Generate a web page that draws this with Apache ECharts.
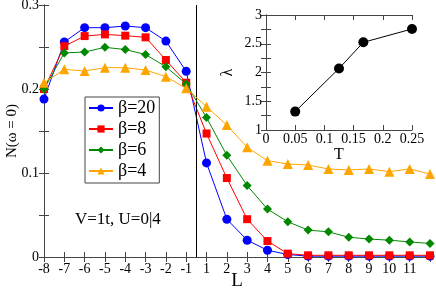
<!DOCTYPE html>
<html><head><meta charset="utf-8">
<script src="https://cdn.jsdelivr.net/npm/echarts@6/dist/echarts.min.js"></script>
<style>html,body{margin:0;padding:0;background:#fff}#c{width:436px;height:289px}</style>
</head><body><div id="c"></div>
<script>
// ---- data ----
const lLabels = ['-8','-7','-6','-5','-4','-3','-2','-1','1','2','3','4','5','6','7','8','9','10','11','12'];
const xTickLabels = ['-8','-7','-6','-5','-4','-3','-2','-1','1','2','3','4','5','6','7','8','9','10','11',''];
const beta20 = [0.188,0.256,0.273,0.273,0.275,0.273,0.257,0.221,0.112,0.045,0.020,0.008,0.003,0.001,0.001,0.001,0.001,0.001,0.001,0.001];
const beta8  = [0.200,0.251,0.263,0.265,0.2635,0.2615,0.2345,0.2075,0.147,0.094,0.045,0.019,0.004,0.002,0.002,0.002,0.002,0.002,0.002,0.002];
const beta6  = [0.200,0.243,0.244,0.2496,0.247,0.241,0.2265,0.206,0.166,0.121,0.085,0.057,0.042,0.032,0.030,0.0235,0.0214,0.020,0.018,0.016];
const beta4  = [0.2075,0.2234,0.2214,0.2254,0.2254,0.2226,0.2147,0.2008,0.179,0.157,0.1306,0.1147,0.1107,0.1095,0.1048,0.1036,0.1048,0.1016,0.1048,0.0988];
const seriesNames = ['β=20','β=8','β=6','β=4'];
const insetT = [0.05,0.125,0.1667,0.25];
const insetLambda = [1.32,2.07,2.525,2.757];
const yTickLabels = ['0','0.1','0.2','0.3'];

const F = 'Liberation Serif';
const axisCol = '#444';
const toPairs = arr => arr.map((v,i)=>[i,v]);

const chart = echarts.init(document.getElementById('c'), null, {renderer:'canvas'});
const mainGrid = {left:44, right:6, top:5, bottom:32, show:false, containLabel:false, outerBoundsMode:'none'};
const insetGrid = {left:266, top:15, width:146, height:115, show:true, backgroundColor:'#fff', borderWidth:0, containLabel:false, outerBoundsMode:'none'};

const cols = ['#0000ff','#ff0000','#008800','#ffa500'];
const syms = ['circle','rect','diamond','triangle'];
const sizes = [9,8,9,10];
const datas = [beta20,beta8,beta6,beta4];

const series = datas.map((d,k)=>({
  name: seriesNames[k], type:'line', xAxisIndex:0, yAxisIndex:0,
  data: toPairs(d), symbol: syms[k], symbolSize: sizes[k],
  lineStyle:{color:cols[k], width:1}, itemStyle:{color:cols[k]},
  emphasis:{disabled:true}, z: 3+k
}));
series.push({
  type:'line', xAxisIndex:0, yAxisIndex:0, data:[], silent:true,
  markLine:{silent:true, symbol:'none', label:{show:false},
    lineStyle:{color:'#000', width:1, type:'solid'},
    data:[{xAxis:7.5}]}
});
series.push({
  type:'line', xAxisIndex:2, yAxisIndex:2, data: insetT.map((t,i)=>[t,insetLambda[i]]),
  symbol:'circle', symbolSize:10, lineStyle:{color:'#000',width:1}, itemStyle:{color:'#000'},
  emphasis:{disabled:true}, z:10
});

chart.setOption({
  animation:false,
  textStyle:{fontFamily:F},
  grid:[mainGrid, insetGrid],
  legend:{
    data: seriesNames, left:85, top:97, orient:'vertical',
    padding:[2,4,3,3], itemGap:3, itemWidth:24, itemHeight:9,
    borderColor:'#444', borderWidth:1, backgroundColor:'#fff',
    textStyle:{fontFamily:F, fontSize:18, color:'#000'},
    selectedMode:false, z:20
  },
  xAxis:[
    {type:'value', gridIndex:0, min:0, max:19, interval:1, position:'bottom',
     axisLine:{lineStyle:{color:axisCol}},
     axisTick:{inside:true, length:5, lineStyle:{color:axisCol}},
     axisLabel:{fontFamily:F, fontSize:14, color:'#000', margin:5, formatter:v=>xTickLabels[v]},
     splitLine:{show:false},
     name:'L', nameLocation:'middle', nameGap:15, nameMoveOverlap:false,
     nameTextStyle:{fontFamily:F, fontSize:19, color:'#000', verticalAlign:'top'}},
    {type:'value', gridIndex:0, min:0, max:19, interval:1, position:'top',
     axisLine:{lineStyle:{color:axisCol}},
     axisTick:{inside:true, length:5, lineStyle:{color:axisCol}},
     axisLabel:{show:false}, splitLine:{show:false}},
    {type:'value', gridIndex:1, min:0, max:0.25, interval:0.05, position:'bottom',
     axisLine:{lineStyle:{color:axisCol}},
     axisTick:{inside:true, length:5, lineStyle:{color:axisCol}},
     axisLabel:{fontFamily:F, fontSize:14, color:'#000', margin:2, formatter:v=>String(+v.toFixed(2))},
     splitLine:{show:false},
     name:'T', nameLocation:'middle', nameGap:17, nameMoveOverlap:false,
     nameTextStyle:{fontFamily:F, fontSize:16, color:'#000'}},
    {type:'value', gridIndex:1, min:0, max:0.25, interval:0.05, position:'top',
     axisLine:{lineStyle:{color:axisCol}},
     axisTick:{inside:true, length:5, lineStyle:{color:axisCol}},
     axisLabel:{show:false}, splitLine:{show:false}}
  ],
  yAxis:[
    {type:'value', gridIndex:0, min:0, max:0.3, interval:0.1, position:'left',
     axisLine:{show:true, lineStyle:{color:axisCol}},
     axisTick:{inside:true, length:5, lineStyle:{color:axisCol}},
     minorTick:{show:true, splitNumber:2, length:5, lineStyle:{color:axisCol}},
     axisLabel:{fontFamily:F, fontSize:14, color:'#000', margin:5, formatter:v=>yTickLabels[Math.round(v*10)]},
     splitLine:{show:false},
     name:'N(ω = 0)', nameLocation:'middle', nameGap:24, nameRotate:90, nameMoveOverlap:false,
     nameTextStyle:{fontFamily:F, fontSize:15, color:'#000'}},
    {type:'value', gridIndex:0, min:0, max:0.3, interval:0.1, position:'right',
     axisLine:{show:true, lineStyle:{color:axisCol}},
     axisTick:{inside:true, length:5, lineStyle:{color:axisCol}},
     minorTick:{show:true, splitNumber:2, length:5, lineStyle:{color:axisCol}},
     axisLabel:{show:false}, splitLine:{show:false}},
    {type:'value', gridIndex:1, min:1, max:3, interval:0.5, position:'left',
     axisLine:{show:true, lineStyle:{color:axisCol}},
     axisTick:{inside:true, length:5, lineStyle:{color:axisCol}},
     minorTick:{show:true, splitNumber:2, length:5, lineStyle:{color:axisCol}},
     axisLabel:{fontFamily:F, fontSize:14, color:'#000', margin:4},
     splitLine:{show:false},
     name:'λ', nameLocation:'middle', nameGap:30, nameRotate:90, nameMoveOverlap:false,
     nameTextStyle:{fontFamily:F, fontSize:16, color:'#000'}},
    {type:'value', gridIndex:1, min:1, max:3, interval:0.5, position:'right',
     axisLine:{show:true, lineStyle:{color:axisCol}},
     axisTick:{inside:true, length:5, lineStyle:{color:axisCol}},
     minorTick:{show:true, splitNumber:2, length:5, lineStyle:{color:axisCol}},
     axisLabel:{show:false}, splitLine:{show:false}}
  ],
  graphic:[{type:'text', left:75, top:211, z:30,
    style:{text:'V=1t, U=0|4', font:'17px "Liberation Serif"', fill:'#000'}}],
  series: series
});
</script></body></html>
